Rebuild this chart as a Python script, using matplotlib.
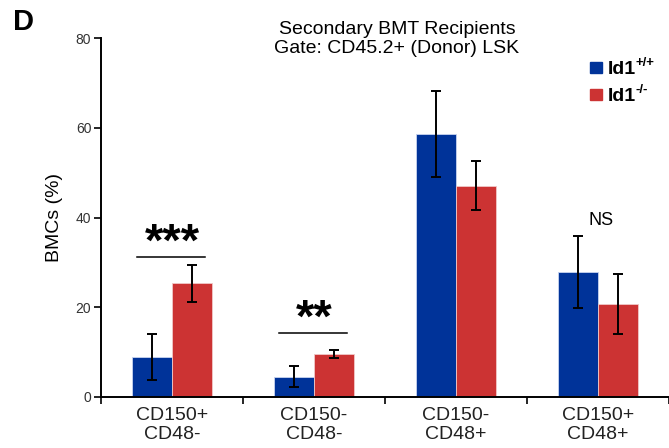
import numpy as np
import matplotlib
matplotlib.use("Agg")
import matplotlib.pyplot as plt
from matplotlib.patches import Rectangle

plt.rcParams['font.family'] = ['Liberation Sans', 'DejaVu Sans']

# data
groups = ["CD150+\nCD48-", "CD150-\nCD48-", "CD150-\nCD48+", "CD150+\nCD48+"]
wt_mean = [8.9, 4.5, 58.7, 27.8]
wt_err = [5.2, 2.3, 9.6, 8.0]
ko_mean = [25.3, 9.5, 47.1, 20.7]
ko_err = [4.1, 0.9, 5.4, 6.6]
signif = ["***", "**", "", "NS"]
sig_y = [31.2, 14.3, None, None]
legend_names = ["Id1", "Id1"]
legend_sups = ["+/+", "-/-"]

blue = "#003399"
red = "#cc3333"
w = 0.285
x = np.arange(len(groups))
W, H = 669, 448

fig = plt.figure(figsize=(6.69, 4.48), dpi=100)
ax = fig.add_axes([0.151, 0.114, 0.849, 0.801])

ax.bar(x - w/2, wt_mean, w, color=blue, edgecolor="#c8d4f0", linewidth=0.6)
ax.bar(x + w/2, ko_mean, w, color=red, edgecolor="#f0c8c8", linewidth=0.6)
ax.errorbar(x - w/2, wt_mean, yerr=wt_err, fmt="none", ecolor="black", elinewidth=1.4, capsize=3.5, capthick=1.4)
ax.errorbar(x + w/2, ko_mean, yerr=ko_err, fmt="none", ecolor="black", elinewidth=1.4, capsize=3.5, capthick=1.4)

# significance markers
for i in range(len(groups)):
    if signif[i] in ("***", "**"):
        ax.plot([i - 0.245, i + 0.235], [sig_y[i], sig_y[i]], color="black", lw=1.1)
        ax.text(i, sig_y[i] + 0.3, signif[i], ha="center", va="baseline", fontsize=34, fontweight="bold")
    elif signif[i] == "NS":
        ax.text(i + 0.02, max(wt_mean[i] + wt_err[i], ko_mean[i] + ko_err[i]) + 3.5, "NS",
                ha="center", va="center", fontsize=13)

ax.set_xlim(-0.5, 3.5)
ax.set_ylim(0, 80)
ax.set_yticks([0, 20, 40, 60, 80])
ax.tick_params(axis="y", labelsize=10, labelcolor="#333333", length=5, width=1.2, direction="out", pad=2)
ax.set_xticks(x)
ax.set_xticklabels(groups, fontsize=14, color="#222222", linespacing=1.15)
ax.tick_params(axis="x", which="major", length=0, pad=7)
ax.set_xticks(np.arange(-0.5, 3.6, 1.0), minor=True)
ax.tick_params(axis="x", which="minor", length=5, width=1.2, direction="out")
for s in ["top", "right"]:
    ax.spines[s].set_visible(False)
ax.spines["left"].set_linewidth(1.4)
ax.spines["bottom"].set_linewidth(1.4)
ax.set_ylabel("BMCs (%)", fontsize=14, labelpad=9)

fig.text(397 / W, 1 - 39 / H, "Secondary BMT Recipients\nGate: CD45.2+ (Donor) LSK",
         ha="center", va="center", fontsize=14, linespacing=1.2)
fig.text(0.02, 0.95, "D", fontsize=21, fontweight="bold", ha="left", va="center")

# legend drawn by hand (square, name, superscript)
for k, col in enumerate([blue, red]):
    yc = 68 + 26.5 * k
    fig.patches.append(Rectangle((590 / W, 1 - (yc + 5.5) / H), 12 / W, 11 / H,
                                 transform=fig.transFigure, color=col))
    fig.text(608 / W, 1 - (yc + 6.5) / H, legend_names[k], fontsize=14,
             fontweight="bold", ha="left", va="baseline")
    fig.text(635 / W, 1 - (yc - 1.5) / H, legend_sups[k], fontsize=9.5,
             fontweight="bold", ha="left", va="baseline")

fig.savefig("out.png", dpi=100)
